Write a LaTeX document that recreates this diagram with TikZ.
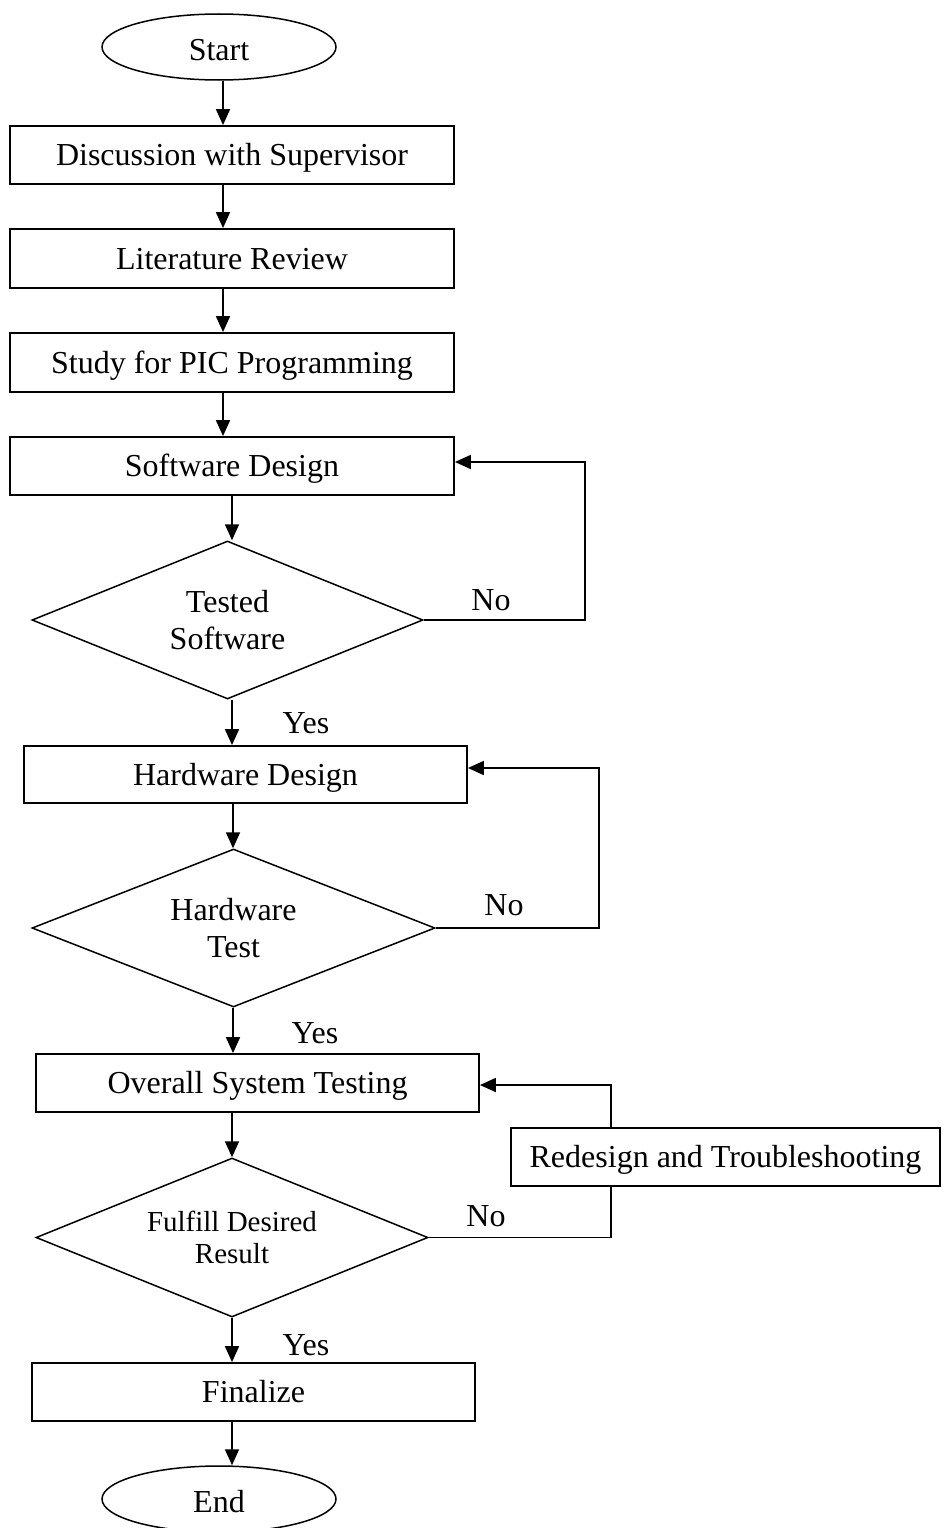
\documentclass[tikz,border=0pt]{standalone}
\usepackage{fontspec}
\setmainfont{Liberation Serif}
\usetikzlibrary{shapes.geometric,arrows.meta}
\begin{document}
\begin{tikzpicture}[x=1pt,y=-1pt,
  every node/.style={font=\fontsize{32}{36.7}\selectfont},
  procbox/.style={draw, line width=1.8pt, rectangle, inner sep=0pt, text height=28pt, text depth=6.5pt},
  term/.style={draw, line width=1.5pt, ellipse, inner sep=0pt, minimum width=234pt, minimum height=66pt, text height=26pt, text depth=0pt},
  decision/.style={draw, line width=1.5pt, diamond, aspect=2.5, inner sep=0pt, align=center},
  arr/.style={line width=1.8pt, -{Triangle[length=16pt,width=14pt]}},
  link/.style={line width=1.8pt},
  lbl/.style={inner sep=0pt}]
\useasboundingbox (0,0) rectangle (942,1528);

\node[term] (start) at (219,47) {Start};
\node[procbox, minimum width=444pt, minimum height=58pt] (disc) at (232,155) {Discussion with Supervisor};
\node[procbox, minimum width=444pt, minimum height=59pt] (lit) at (232,258.5) {Literature Review};
\node[procbox, minimum width=444pt, minimum height=59pt] (study) at (232,362.5) {Study for PIC Programming};
\node[procbox, minimum width=444pt, minimum height=58pt] (sw) at (232,466) {Software Design};
\node[decision, minimum width=391pt, minimum height=158pt] (d1) at (227.5,620) {Tested\\Software};
\node[procbox, minimum width=443pt, minimum height=57pt] (hw) at (245.5,774.5) {Hardware Design};
\node[decision, minimum width=403pt, minimum height=158pt] (d2) at (233.5,928) {Hardware\\Test};
\node[procbox, minimum width=443pt, minimum height=58pt] (ov) at (257.5,1083) {Overall System Testing};
\node[procbox, minimum width=429pt, minimum height=58pt] (red) at (725.5,1157) {Redesign and Troubleshooting};
\node[decision, minimum width=392pt, minimum height=159pt, font=\fontsize{29}{32.3}\selectfont] (d3) at (232,1237.5) {Fulfill Desired\\Result};
\node[procbox, minimum width=443pt, minimum height=58pt] (fin) at (253.5,1392) {Finalize};
\node[term] (end) at (219,1499) {End};

\coordinate (cA) at (223,0);
\coordinate (cB) at (232,0);
\coordinate (cC) at (233,0);

\draw[arr] (start.south -| cA) -- (disc.north -| cA);
\draw[arr] (disc.south -| cA) -- (lit.north -| cA);
\draw[arr] (lit.south -| cA) -- (study.north -| cA);
\draw[arr] (study.south -| cA) -- (sw.north -| cA);
\draw[arr] (sw.south -| cB) -- (d1.north -| cB);
\draw[arr] (d1.south -| cB) -- (hw.north -| cB);
\draw[arr] (hw.south -| cC) -- (d2.north -| cC);
\draw[arr] (d2.south -| cC) -- (ov.north -| cC);
\draw[arr] (ov.south -| cB) -- (d3.north -| cB);
\draw[arr] (d3.south -| cB) -- (fin.north -| cB);
\draw[arr] (fin.south -| cB) -- (end.north -| cB);

\coordinate (r1) at (585,462);
\draw[arr] (d1.east) -| (r1) -- (r1 -| sw.east);
\coordinate (r2) at (599,768);
\draw[arr] (d2.east) -| (r2) -- (r2 -| hw.east);
\coordinate (r3) at (611,1085);
\draw[link] (d3.east) -| (red.south -| r3);
\draw[arr] (red.north -| r3) -- (r3) -- (r3 -| ov.east);

\node[lbl] (no1) at (491,600) {No};
\node[lbl] (yes1) at (306,723) {Yes};
\node[lbl] (no2) at (504,905) {No};
\node[lbl] (yes2) at (315,1033) {Yes};
\node[lbl] (no3) at (486,1216) {No};
\node[lbl] (yes3) at (306,1345) {Yes};
\end{tikzpicture}
\end{document}
